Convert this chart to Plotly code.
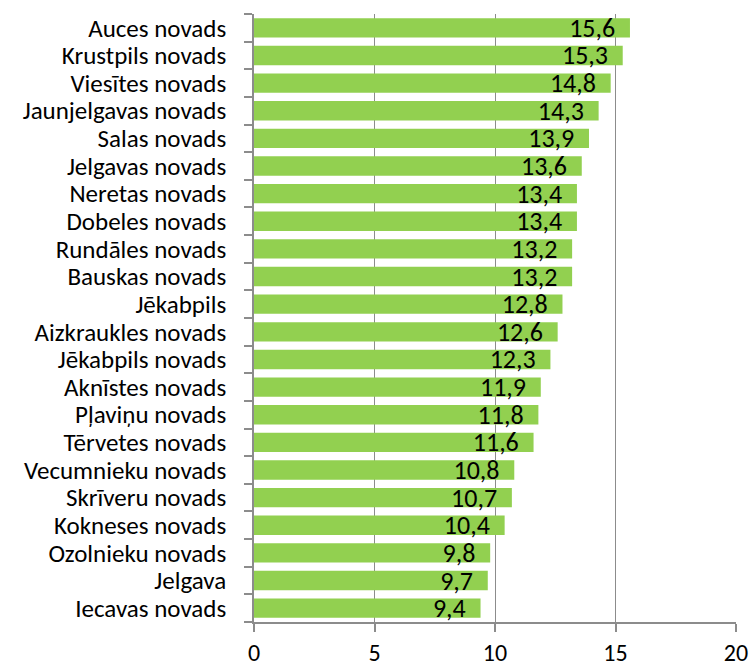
import plotly.graph_objects as go

categories = ["Auces novads", "Krustpils novads", "Viesītes novads", "Jaunjelgavas novads",
              "Salas novads", "Jelgavas novads", "Neretas novads", "Dobeles novads",
              "Rundāles novads", "Bauskas novads", "Jēkabpils", "Aizkraukles novads",
              "Jēkabpils novads", "Aknīstes novads", "Pļaviņu novads", "Tērvetes novads",
              "Vecumnieku novads", "Skrīveru novads", "Kokneses novads", "Ozolnieku novads",
              "Jelgava", "Iecavas novads"]
values = [15.6, 15.3, 14.8, 14.3, 13.9, 13.6, 13.4, 13.4, 13.2, 13.2, 12.8, 12.6,
          12.3, 11.9, 11.8, 11.6, 10.8, 10.7, 10.4, 9.8, 9.7, 9.4]
x_ticks = [0, 5, 10, 15, 20]

font_family = "Carlito, Calibri, Lato, Open Sans, sans-serif"

fig = go.Figure(go.Bar(
    y=categories, x=values, orientation="h",
    marker=dict(color="#92D050", line=dict(width=0)),
    text=[f"{v:.1f}".replace(".", ",") + "\u00a0\u00a0" for v in values],
    textposition="inside", insidetextanchor="end", constraintext="none",
    textfont=dict(color="#000000", size=26, family=font_family),
    hoverinfo="skip",
))

fig.update_layout(
    width=756, height=667,
    margin=dict(l=254, r=20, t=14, b=45),
    paper_bgcolor="white", plot_bgcolor="white",
    bargap=0.3,
    showlegend=False,
    font=dict(family=font_family, color="#000000"),
)
fig.update_yaxes(
    autorange="reversed", type="category", automargin=False,
    tickmode="array", tickvals=categories, ticktext=categories,
    showline=True, linecolor="#8c8c8c", linewidth=1.5,
    ticks="outside", ticklen=8, tickcolor="#8c8c8c", tickwidth=1.5,
    tickson="boundaries",
    tickfont=dict(size=25, color="#000000"),
    ticklabelstandoff=21,
    showgrid=False,
)
fig.update_xaxes(
    range=[0, 20], tickvals=x_ticks, ticktext=[str(t) for t in x_ticks],
    automargin=False,
    showline=True, linecolor="#8c8c8c", linewidth=1.5,
    ticks="outside", ticklen=8, tickcolor="#8c8c8c", tickwidth=1.5,
    showgrid=True, gridcolor="#8c8c8c", gridwidth=1,
    zeroline=False,
    tickfont=dict(size=24, color="#000000"),
)

fig.write_html("out.html", config={"displayModeBar": False},
               post_script="document.body.style.margin='0';")
